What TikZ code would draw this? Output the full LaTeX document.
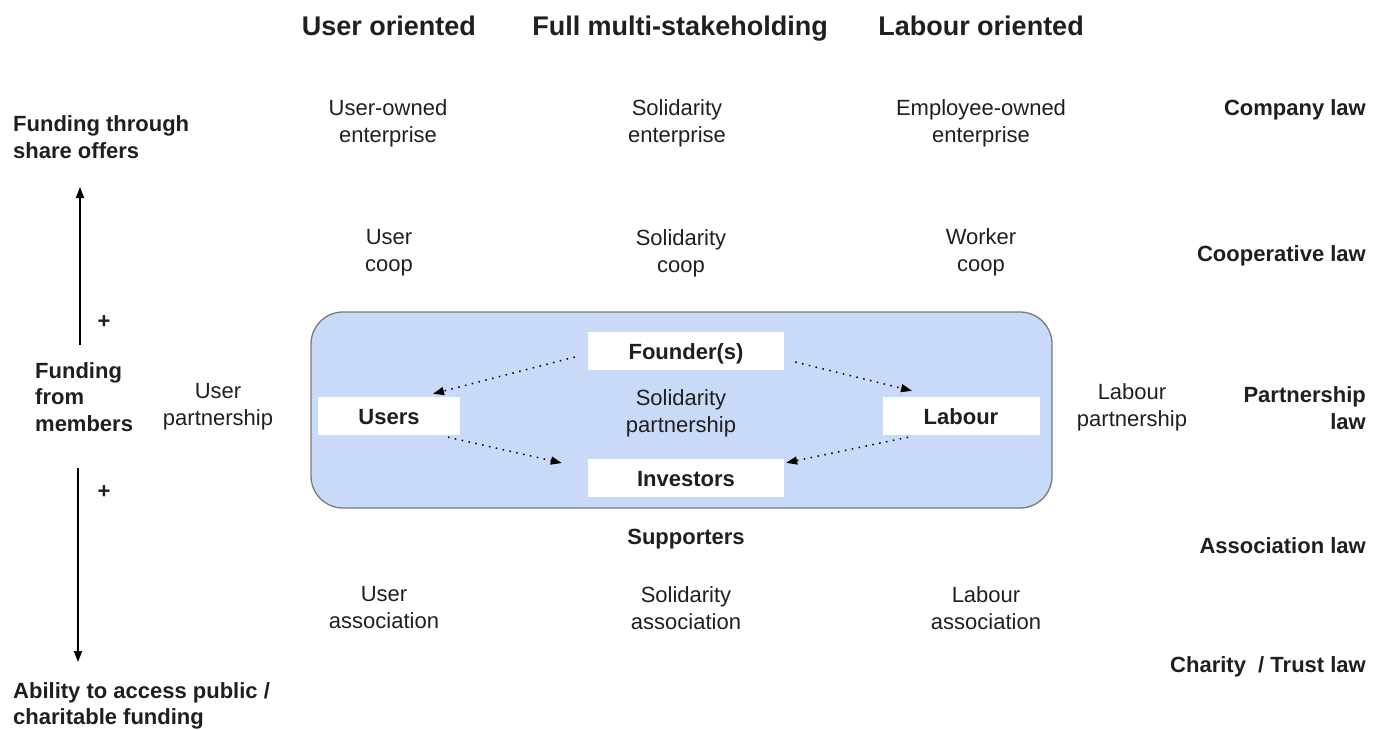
\documentclass[tikz,border=0pt]{standalone}
\usepackage{fontspec}
\setmainfont{Liberation Sans}
\usetikzlibrary{calc, arrows.meta}
\definecolor{boxblue}{HTML}{C9DAF8}
\definecolor{boxedge}{HTML}{7A7A7A}
\definecolor{ink}{HTML}{1F1F1F}
\tikzset{
  lbl/.style={align=center, inner sep=0pt, text=ink, font=\fontsize{22}{27}\selectfont},
  blbl/.style={lbl, font=\fontsize{22}{26.5}\selectfont\bfseries},
  head/.style={inner sep=0pt, anchor=base, text=ink, font=\fontsize{27}{32}\selectfont\bfseries},
  law/.style={blbl, anchor=east, align=right},
  side/.style={blbl, anchor=west, align=left},
  actor/.style={fill=white, minimum height=38pt, inner sep=0pt, text height=17pt, text depth=1pt, text=ink, font=\fontsize{22}{27}\selectfont\bfseries},
  flow/.style={-{Triangle[length=11pt,width=8pt]}, line width=1.5pt, dash pattern=on 1.5pt off 5.5pt},
  axis/.style={-{Triangle[length=11pt,width=8pt]}, line width=1.8pt},
}
\begin{document}
\begin{tikzpicture}[x=1pt, y=-1pt]
  \useasboundingbox (0,0) rectangle (1384,729);
  % column headings
  \node[head] (huser) at (389,35) {User oriented};
  \node[head] (hfull) at (680,35) {Full multi-stakeholding};
  \node[head] (hlab)  at (981,35) {Labour oriented};
  % law rows
  \node[law] (lcomp)  at (1366,110) {Company law};
  \node[law] (lcoop)  at (1366,256) {Cooperative law};
  \node[law] (lpart)  at (1366,408) {Partnership\\law};
  \node[law] (lassoc) at (1366,546) {Association law};
  \node[law] (lchar)  at (1366,667) {Charity\ \ / Trust law};
  % forms
  \node[lbl] (uent) at (388,123) {User-owned\\enterprise};
  \node[lbl] (sent) at (677,123) {Solidarity\\enterprise};
  \node[lbl] (eent) at (981,123) {Employee-owned\\enterprise};
  \node[lbl] (ucoop) at (389,253) {User\\coop};
  \node[lbl] (scoop) at (681,253) {Solidarity\\coop};
  \node[lbl] (wcoop) at (981,252) {Worker\\coop};
  \node[lbl] (upart) at (218,407) {User\\partnership};
  \node[lbl] (lpartn) at (1132,407) {Labour\\partnership};
  \node[lbl] (uassoc) at (384,608) {User\\association};
  \node[lbl] (sassoc) at (686,608) {Solidarity\\association};
  \node[lbl] (lassocn) at (986,608) {Labour\\association};
  % solidarity partnership box
  \draw[fill=boxblue, draw=boxedge, line width=1.3pt, rounded corners=32pt] (311,312) rectangle (1052,508);
  \node[lbl] (spart) at (681,413) {Solidarity\\partnership};
  \node[actor, minimum width=196pt] (founder) at (686,351) {Founder(s)};
  \node[actor, minimum width=142pt] (users) at (389,416) {Users};
  \node[actor, minimum width=157pt] (labour) at (961,416) {Labour};
  \node[actor, minimum width=196pt] (investors) at (686,478) {Investors};
  \draw[flow] ($(founder.west)+(-13,6)$) -- ($(users.north)+(44,-3)$);
  \draw[flow] ($(founder.east)+(11,11)$) -- ($(labour.north)+(-49,-6)$);
  \draw[flow] ($(users.south)+(59,2)$) -- ($(investors.west)+(-26,-15)$);
  \draw[flow] ($(labour.south)+(-53,2)$) -- ($(investors.north east)+(2,4)$);
  \node[blbl] (supp) at (686,539) {Supporters};
  % funding axis
  \node[side] (share) at (13,137) {Funding through\\share offers};
  \node[side] (members) at (35,397) {Funding\\from\\members};
  \node[side] (public) at (13,706) {Ability to access public /\\charitable funding};
  \coordinate (upbot) at (80,345);
  \coordinate (uptop) at (80,187);
  \coordinate (dntop) at (78,468);
  \coordinate (dnbot) at (78,662);
  \draw[axis] (upbot) -- (uptop);
  \draw[axis] (dntop) -- (dnbot);
  \node[blbl] (plus1) at (104,322) {+};
  \node[blbl] (plus2) at (104,492) {+};
\end{tikzpicture}
\end{document}
